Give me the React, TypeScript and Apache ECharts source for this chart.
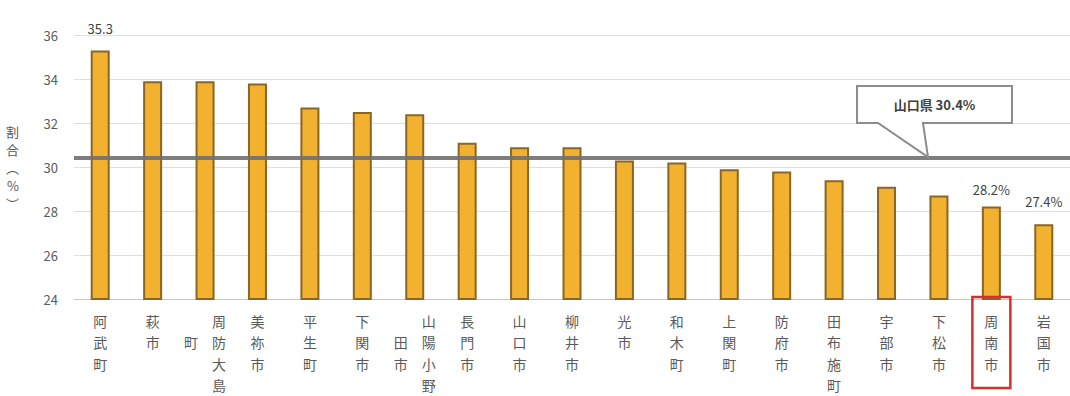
import React, { useEffect, useRef } from "react";
import * as echarts from "echarts";

const categories = [
  "阿武町", "萩市", "周防大島町", "美祢市", "平生町", "下関市", "山陽小野田市",
  "長門市", "山口市", "柳井市", "光市", "和木町", "上関町", "防府市",
  "田布施町", "宇部市", "下松市", "周南市", "岩国市",
];
const values = [
  35.3, 33.9, 33.9, 33.8, 32.7, 32.5, 32.4, 31.1, 30.9, 30.9,
  30.3, 30.2, 29.9, 29.8, 29.4, 29.1, 28.7, 28.2, 27.4,
];
const valueLabels = [
  "35.3", "", "", "", "", "", "", "", "", "",
  "", "", "", "", "", "", "", "28.2%", "27.4%",
];
const prefName = "山口県";
const prefAverage = 30.4;
const yMin = 24;
const yMax = 36;
const yInterval = 2;
const yAxisTitle = "割合（%）";
const highlightName = "周南市";

const FONT = '"Noto Sans CJK JP", "Noto Sans", sans-serif';
const FS = "　";

// Vertical (tategaki) label: first column on the right holds up to 4 chars,
// the rest go into a second column on the left, centred vertically.
function verticalLabel(name: string): string {
  const chars = Array.from(name);
  if (chars.length <= 4) return chars.join("\n");
  const right = chars.slice(0, 4);
  const left = chars.slice(4);
  const n = right.length;
  const m = left.length;
  const start = Math.floor((n - m) / 2) + (m === 1 ? 0 : 0);
  const rows: string[] = [];
  for (let i = 0; i < n; i++) {
    const k = i - start;
    const l = k >= 0 && k < m ? left[k] : FS;
    rows.push(l + FS + right[i]);
  }
  return rows.join("\n");
}

const labelDistances: Record<number, number> = { 0: 15, 17: 11, 18: 16 };

export default function App() {
  const ref = useRef<HTMLDivElement>(null);
  useEffect(() => {
    if (!ref.current) return;
    const chart = echarts.init(ref.current, null, { renderer: "svg" });
    const option: any = {
      animation: false,
      backgroundColor: "#ffffff",
      grid: { left: 74, top: 35, height: 265, width: 1005, containLabel: false },
      xAxis: {
        type: "category",
        data: categories,
        axisLine: { show: true, lineStyle: { color: "#c8c8c8", width: 1 } },
        axisTick: { show: false },
        axisLabel: {
          interval: 0,
          margin: 11,
          fontFamily: FONT,
          fontSize: 14,
          color: "#5a5a5a",
          lineHeight: 21.5,
          align: "center",
          formatter: (v: string) => verticalLabel(v),
        },
      },
      yAxis: {
        type: "value",
        min: yMin,
        max: yMax,
        interval: yInterval,
        name: Array.from(yAxisTitle)
          .map((c) => (c === "（" ? "︵" : c === "）" ? "︶" : c))
          .join("\n"),
        nameLocation: "middle",
        nameRotate: 0,
        nameGap: 55,
        nameTextStyle: { fontFamily: FONT, fontSize: 13, color: "#5a5a5a", lineHeight: 18 },
        axisLine: { show: false },
        axisTick: { show: false },
        axisLabel: { fontFamily: FONT, fontSize: 13, color: "#5a5a5a", margin: 16 },
        splitLine: { lineStyle: { color: "#dedede", width: 1 } },
      },
      series: [
        {
          type: "bar",
          barWidth: 19,
          itemStyle: { color: "#F2B12E", borderColor: "#8A6624", borderWidth: 2 },
          data: values.map((v, i) => ({
            value: v,
            label: {
              show: valueLabels[i] !== "",
              position: "top",
              distance: labelDistances[i] ?? 5,
              formatter: () => valueLabels[i],
              fontFamily: FONT,
              fontSize: 13,
              color: "#404040",
            },
          })),
          markLine: {
            silent: true,
            symbol: ["none", "none"],
            label: { show: false },
            lineStyle: { color: "#707070", width: 4, type: "solid", opacity: 0.9 },
            data: [{ yAxis: prefAverage }],
          },
        },
      ],
    };
    chart.setOption(option);

    const yTip = chart.convertToPixel({ yAxisIndex: 0 }, prefAverage) as number;
    const xHi = chart.convertToPixel({ xAxisIndex: 0 }, highlightName) as number;
    const boxL = 857, boxR = 1012, boxT = 86, boxB = 123;
    chart.setOption({
      graphic: [
        {
          type: "polygon",
          z: 100,
          shape: {
            points: [
              [boxL, boxT], [boxR, boxT], [boxR, boxB], [923, boxB],
              [928, yTip - 1], [878, boxB], [boxL, boxB],
            ],
          },
          style: { fill: "#ffffff", stroke: "#8c8c8c", lineWidth: 2 },
        },
        {
          type: "text",
          z: 101,
          x: (boxL + boxR) / 2,
          y: (boxT + boxB) / 2,
          style: {
            text: `${prefName} ${prefAverage.toFixed(1)}%`,
            fontFamily: FONT,
            fontSize: 13,
            fontWeight: "bold",
            fill: "#404040",
            align: "center",
            verticalAlign: "middle",
          },
        },
        {
          type: "rect",
          z: 100,
          shape: { x: xHi - 19, y: 297, width: 38, height: 91 },
          style: { fill: "none", stroke: "#d6302c", lineWidth: 2.5 },
        },
      ],
    });
    return () => chart.dispose();
  }, []);
  return (
    <div
      ref={ref}
      style={{ position: "absolute", left: 0, top: 0, width: 1070, height: 396 }}
    />
  );
}
